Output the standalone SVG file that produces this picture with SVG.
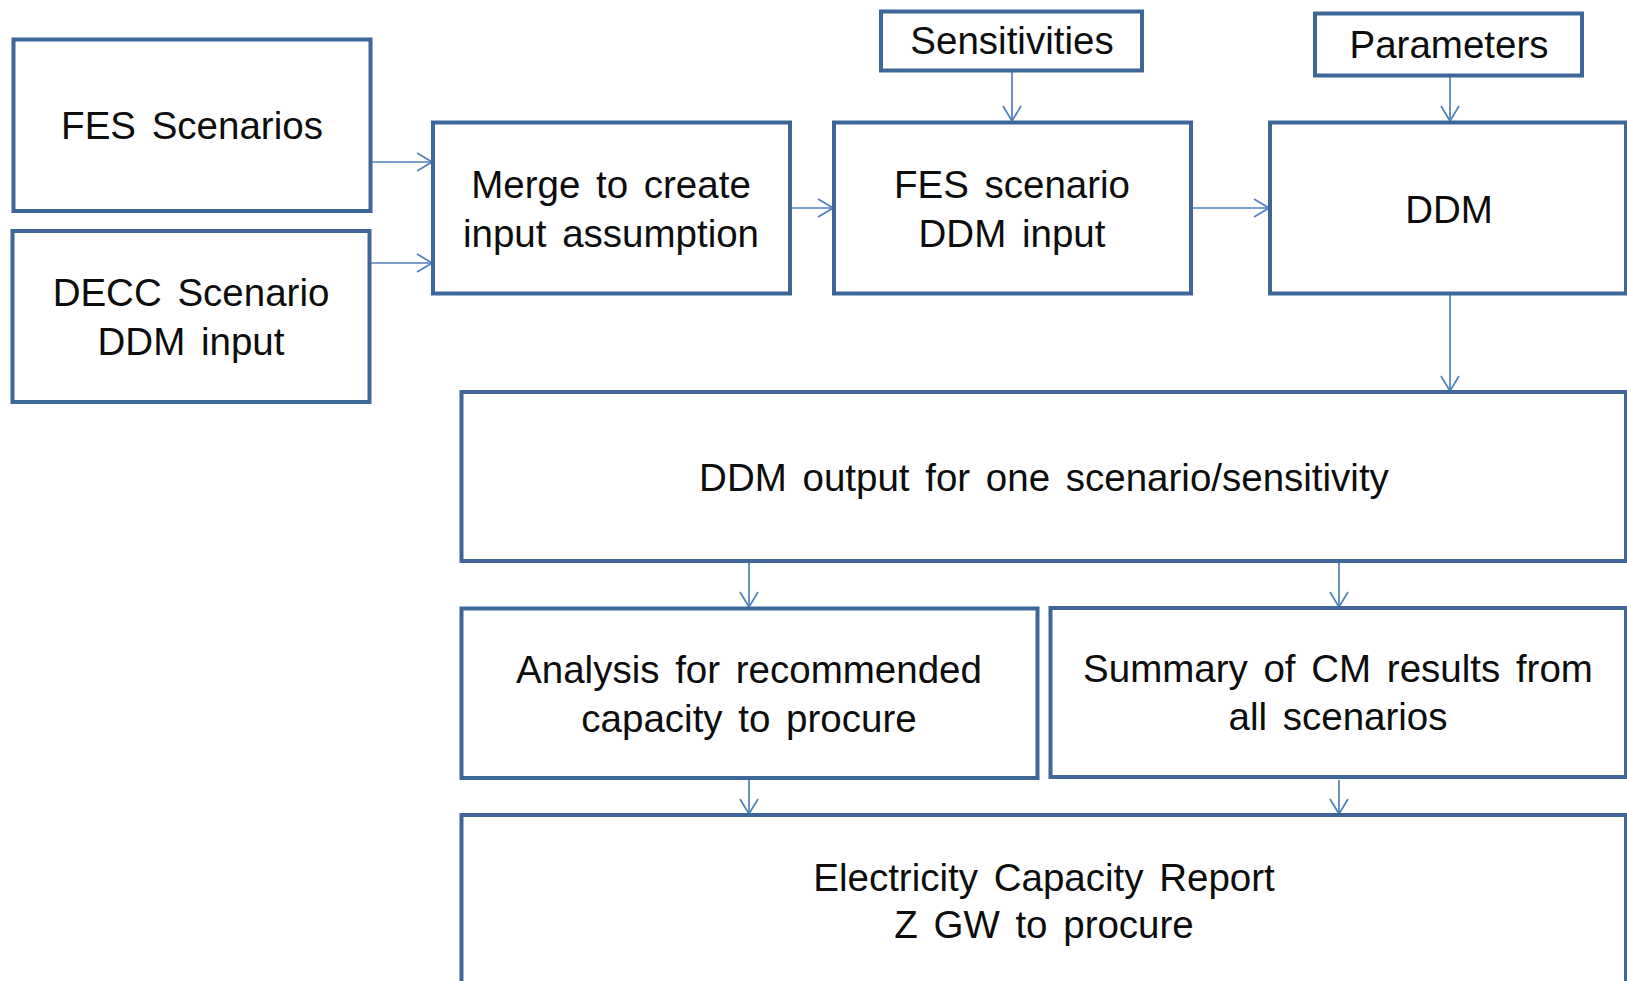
<svg xmlns="http://www.w3.org/2000/svg" width="1627" height="981" viewBox="0 0 1627 981">
  <style>
    .box { fill: #ffffff; stroke: #3f6699; stroke-width: 4; }
    .lbl { font-family: "Liberation Sans", Arial, sans-serif; font-size: 38.5px; word-spacing: 5px; fill: #0d0d0d; text-anchor: middle; }
    .conn { fill: none; stroke: #4f81bd; stroke-width: 1.7; marker-end: url(#arrow); }
  </style>
  <defs>
    <marker id="arrow" markerUnits="userSpaceOnUse" viewBox="0 0 17 20" refX="16" refY="10" markerWidth="17" markerHeight="20" orient="auto">
      <path d="M1,1 L16,10 L1,19" fill="none" stroke="#4f81bd" stroke-width="1.7"/>
    </marker>
  </defs>
  <rect width="1627" height="981" fill="#ffffff"/>

  <g id="connectors">
    <line class="conn" x1="372" y1="162" x2="432" y2="162"/>
    <line class="conn" x1="371" y1="263" x2="432" y2="263"/>
    <line class="conn" x1="791" y1="208" x2="833" y2="208"/>
    <line class="conn" x1="1193" y1="208" x2="1269" y2="208"/>
    <line class="conn" x1="1012" y1="72" x2="1012" y2="121"/>
    <line class="conn" x1="1450" y1="77" x2="1450" y2="121"/>
    <line class="conn" x1="1450" y1="295" x2="1450" y2="391"/>
    <line class="conn" x1="749" y1="563" x2="749" y2="607"/>
    <line class="conn" x1="1339" y1="563" x2="1339" y2="607"/>
    <line class="conn" x1="749" y1="780" x2="749" y2="814"/>
    <line class="conn" x1="1339" y1="780" x2="1339" y2="814"/>
  </g>

  <g id="fes-scenarios">
    <rect class="box" x="13.5" y="39.5" width="357" height="171.5"/>
    <text class="lbl" x="192" y="139">FES Scenarios</text>
  </g>

  <g id="decc-scenario">
    <rect class="box" x="12.5" y="231" width="357" height="171"/>
    <text class="lbl" x="191" y="306">DECC Scenario</text>
    <text class="lbl" x="191" y="355">DDM input</text>
  </g>

  <g id="merge">
    <rect class="box" x="433" y="122.5" width="357" height="171"/>
    <text class="lbl" x="611" y="198">Merge to create</text>
    <text class="lbl" x="611" y="247">input assumption</text>
  </g>

  <g id="sensitivities">
    <rect class="box" x="881" y="11.5" width="261" height="59"/>
    <text class="lbl" x="1012" y="54">Sensitivities</text>
  </g>

  <g id="fes-scenario-input">
    <rect class="box" x="834" y="122.5" width="357" height="171"/>
    <text class="lbl" x="1012" y="198">FES scenario</text>
    <text class="lbl" x="1012" y="247">DDM input</text>
  </g>

  <g id="parameters">
    <rect class="box" x="1315" y="13.5" width="267" height="62"/>
    <text class="lbl" x="1449" y="58">Parameters</text>
  </g>

  <g id="ddm">
    <rect class="box" x="1270" y="122.5" width="356" height="171"/>
    <text class="lbl" x="1449" y="223">DDM</text>
  </g>

  <g id="ddm-output">
    <rect class="box" x="461.5" y="392" width="1164.5" height="169"/>
    <text class="lbl" x="1044" y="491">DDM output for one scenario/sensitivity</text>
  </g>

  <g id="analysis">
    <rect class="box" x="461.5" y="608.5" width="576" height="169.5"/>
    <text class="lbl" x="749" y="683">Analysis for recommended</text>
    <text class="lbl" x="749" y="732">capacity to procure</text>
  </g>

  <g id="summary">
    <rect class="box" x="1050.5" y="608" width="575.5" height="169"/>
    <text class="lbl" x="1338" y="682">Summary of CM results from</text>
    <text class="lbl" x="1338" y="730">all scenarios</text>
  </g>

  <g id="capacity-report">
    <rect class="box" x="461.5" y="815" width="1164.5" height="200"/>
    <text class="lbl" x="1044" y="891">Electricity Capacity Report</text>
    <text class="lbl" x="1044" y="938">Z GW to procure</text>
  </g>
</svg>
